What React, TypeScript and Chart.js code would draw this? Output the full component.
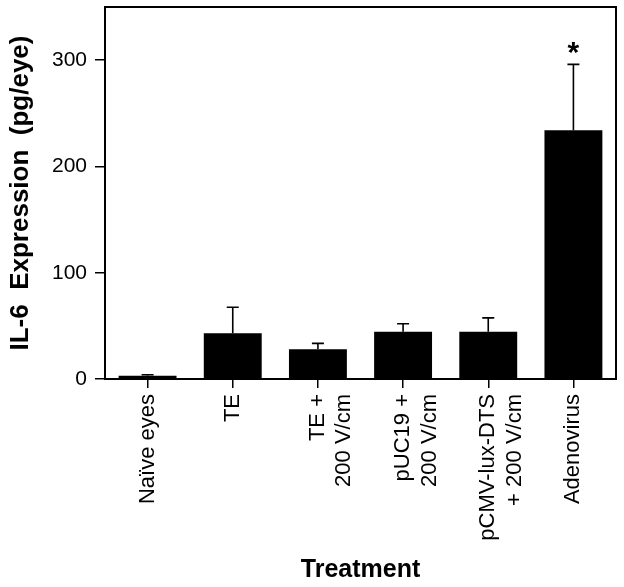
import React, { useEffect, useRef } from "react";
import { Chart, registerables } from "chart.js";

Chart.register(...registerables);

const categories: (string | string[])[] = [
  "Naïve eyes",
  "TE",
  ["TE +", "200 V/cm"],
  ["pUC19 +", "200 V/cm"],
  ["pCMV-lux-DTS", "+ 200 V/cm"],
  "Adenovirus",
];
const means = [3, 43, 28, 44.5, 44.5, 234];
const errorTops = [4, 67.5, 33.5, 52, 57.5, 296];
const significant = [false, false, false, false, false, true];
const yTicks = [0, 100, 200, 300];
const yMax = 350;

const FONT = "'Liberation Sans', Arial, Helvetica, sans-serif";

const framePlugin = {
  id: "frame",
  afterDraw(chart: any) {
    const { ctx, chartArea } = chart;
    ctx.save();
    ctx.strokeStyle = "#000";
    ctx.lineWidth = 2;
    ctx.strokeRect(chartArea.left, chartArea.top, chartArea.right - chartArea.left, chartArea.bottom - chartArea.top);
    ctx.restore();
  },
};

const errorPlugin = {
  id: "errorBars",
  afterDatasetsDraw(chart: any) {
    const { ctx } = chart;
    const yScale = chart.scales.y;
    const meta = chart.getDatasetMeta(0);
    ctx.save();
    ctx.strokeStyle = "#000";
    ctx.fillStyle = "#000";
    ctx.lineWidth = 1.6;
    meta.data.forEach((bar: any, i: number) => {
      const x = bar.x;
      const yTop = yScale.getPixelForValue(errorTops[i]);
      const yMean = yScale.getPixelForValue(means[i]);
      ctx.beginPath();
      ctx.moveTo(x, yMean);
      ctx.lineTo(x, yTop);
      ctx.moveTo(x - 6, yTop);
      ctx.lineTo(x + 6, yTop);
      ctx.stroke();
      if (significant[i]) {
        ctx.font = `bold 30px ${FONT}`;
        ctx.textAlign = "center";
        ctx.textBaseline = "middle";
        ctx.fillText("*", x, yTop - 11);
      }
    });
    ctx.restore();
  },
};

export default function App() {
  const ref = useRef<HTMLCanvasElement>(null);
  useEffect(() => {
    if (!ref.current) return;
    const chart = new Chart(ref.current, {
      type: "bar",
      data: {
        labels: categories,
        datasets: [
          {
            data: means,
            backgroundColor: "#000",
            borderWidth: 0,
            barPercentage: 0.68,
            categoryPercentage: 1,
          },
        ],
      },
      options: {
        responsive: false,
        animation: false,
        layout: { padding: { top: 7, right: 8, left: 0, bottom: 0 } },
        plugins: { legend: { display: false }, tooltip: { enabled: false } },
        scales: {
          x: {
            grid: { display: true, offset: false, drawOnChartArea: false, drawTicks: true, tickLength: 9, color: "#000", lineWidth: 1.5 },
            border: { display: true, color: "#000", width: 2 },
            ticks: {
              color: "#000",
              minRotation: 90,
              maxRotation: 90,
              padding: 6,
              font: { family: FONT, size: 22 },
            },
            title: {
              display: true,
              text: "Treatment",
              color: "#000",
              font: { family: FONT, size: 25, weight: "bold" },
              padding: { top: 0, bottom: 2 },
            },
            afterFit(scale: any) {
              scale.height = 208;
              scale.paddingLeft = 0;
              scale.paddingRight = 0;
            },
          },
          y: {
            min: 0,
            max: yMax,
            grid: { display: true, drawOnChartArea: false, drawTicks: true, tickLength: 10, color: "#000", lineWidth: 1.5 },
            border: { display: true, color: "#000", width: 2 },
            afterBuildTicks(scale: any) {
              scale.ticks = yTicks.map((v) => ({ value: v }));
            },
            ticks: {
              color: "#000",
              padding: 8,
              font: { family: FONT, size: 21 },
            },
            title: {
              display: true,
              text: "IL-6  Expression  (pg/eye)",
              color: "#000",
              font: { family: FONT, size: 26, weight: "bold" },
              padding: { top: 5, bottom: 0 },
            },
            afterFit(scale: any) {
              scale.width = 105;
              scale.paddingTop = 0;
              scale.paddingBottom = 0;
            },
          },
        },
      },
      plugins: [framePlugin, errorPlugin],
    });
    return () => chart.destroy();
  }, []);
  return (
    <div style={{ position: "fixed", left: 0, top: 0, width: 624, height: 587, background: "#fff" }}>
      <canvas ref={ref} width={624} height={587} style={{ display: "block" }} />
    </div>
  );
}
